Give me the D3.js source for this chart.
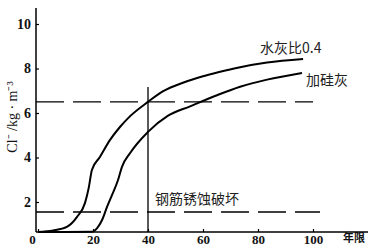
<!DOCTYPE html>
<html><head><meta charset="utf-8">
<script src="https://cdn.jsdelivr.net/npm/d3@7"></script>
<style>body{margin:0;background:#fff}svg{display:block}</style>
</head><body>
<svg id="c" width="380" height="250"></svg>
<script>
// Data
const xTicks = [0, 20, 40, 60, 80, 100];
const yTicks = [2, 4, 6, 8, 10];
const seriesNames = ["水灰比0.4", "加硅灰"];
const wcX = [0, 5.5, 10.5, 14.2, 17.1, 18.5, 19.6, 22.5, 26.2, 29.8, 33.6, 40, 45.5, 52.7, 60, 65.5, 73.5, 83.3, 96.4];
const wcY = [0.65, 0.72, 0.88, 1.33, 1.96, 2.67, 3.44, 4.02, 4.79, 5.37, 5.87, 6.5, 6.98, 7.36, 7.65, 7.83, 8.06, 8.27, 8.43];
const sfX = [0, 10, 19.6, 21.5, 23.3, 25.1, 26.9, 29.1, 30.5, 33.5, 40, 47.3, 55.3, 65.1, 73.5, 83.3, 96];
const sfY = [0.65, 0.65, 0.66, 0.83, 1.19, 1.78, 2.31, 2.99, 3.57, 4.2, 5.15, 5.88, 6.3, 6.8, 7.18, 7.5, 7.8];
const thresholdNames = ["", "钢筋锈蚀破坏"];
const thresholdValues = [6.5, 1.55];
const markerYear = 40, markerTop = 7.17;
const xLabel = "年限", yLabel = "Cl⁻ /kg · m⁻³";

const svg = d3.select("#c");
const x = d3.scaleLinear().domain([0, 100]).range([38, 313]);
const y = d3.scaleLinear().domain([2, 10]).range([202, 24]);
const x0 = 36, xEnd = 368, yBase = 232, yTop = 8;
const tickFont = "'Liberation Serif', serif";
const cjk = "'Noto Sans CJK SC', sans-serif";

// Axes
const xa = svg.append("g").attr("transform", `translate(0,${yBase})`)
  .call(d3.axisBottom(x).tickValues(xTicks).tickSize(-3).tickPadding(3).tickFormat(d3.format("d")));
xa.select(".domain").remove();
xa.append("line").attr("x1", x0).attr("x2", xEnd).attr("stroke", "#000").attr("stroke-width", 1.5);
xa.selectAll(".tick line").attr("stroke-width", 1.2);
xa.selectAll(".tick text").attr("font-family", tickFont).attr("font-weight", "bold").attr("font-size", 13).attr("fill", "#111")
  .attr("dx", d => d === 0 ? -6 : 0);

const ya = svg.append("g").attr("transform", `translate(${x0},0)`)
  .call(d3.axisLeft(y).tickValues(yTicks).tickSize(-3).tickPadding(5));
ya.select(".domain").remove();
ya.append("line").attr("y1", yTop).attr("y2", yBase).attr("stroke", "#000").attr("stroke-width", 1.5);
ya.selectAll(".tick line").attr("stroke-width", 1.2);
ya.selectAll(".tick text").attr("font-family", tickFont).attr("font-weight", "bold").attr("font-size", 14).attr("fill", "#111");

// Threshold dashed lines
const thrEnds = [313, 320];
thresholdValues.forEach((v, i) => {
  svg.append("line").attr("x1", x0).attr("x2", thrEnds[i]).attr("y1", y(v)).attr("y2", y(v))
    .attr("stroke", "#000").attr("stroke-width", 1.4).attr("stroke-dasharray", "28,9");
});

// Marker vertical line
svg.append("line").attr("x1", x(markerYear)).attr("x2", x(markerYear)).attr("y1", yBase).attr("y2", y(markerTop))
  .attr("stroke", "#000").attr("stroke-width", 1.3);

// Curves
const line = d3.line().x(d => x(d[0])).y(d => y(d[1])).curve(d3.curveMonotoneX);
[[wcX, wcY], [sfX, sfY]].forEach(([xs, ys]) => {
  svg.append("path").datum(xs.map((v, i) => [v, ys[i]])).attr("d", line)
    .attr("fill", "none").attr("stroke", "#000").attr("stroke-width", 2);
});

// Labels
svg.append("text").attr("x", 260).attr("y", 53).text(seriesNames[0])
  .attr("font-family", cjk).attr("font-size", 14).attr("fill", "#222");
svg.append("text").attr("x", 306).attr("y", 85).text(seriesNames[1])
  .attr("font-family", cjk).attr("font-size", 14).attr("fill", "#222");
svg.append("text").attr("x", 155).attr("y", 204).text(thresholdNames[1])
  .attr("font-family", cjk).attr("font-size", 14).attr("fill", "#222");
svg.append("text").attr("x", 343).attr("y", 242).text(xLabel)
  .attr("font-family", cjk).attr("font-weight", "bold").attr("font-size", 11).attr("fill", "#111");
svg.append("text").attr("transform", "translate(17,117) rotate(-90)").attr("text-anchor", "middle")
  .text(yLabel).attr("font-family", tickFont).attr("font-size", 14).attr("fill", "#111");
</script>
</body></html>
